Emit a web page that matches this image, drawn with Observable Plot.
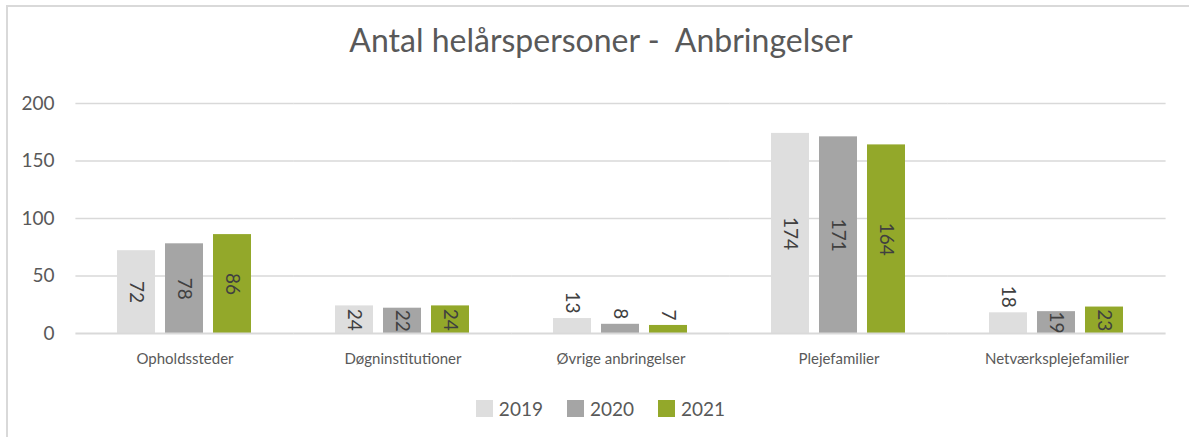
<!DOCTYPE html>
<html><head><meta charset="utf-8">
<script src="https://cdn.jsdelivr.net/npm/d3@7"></script>
<script src="https://cdn.jsdelivr.net/npm/@observablehq/plot@0.6"></script>
<style>
body{margin:0;background:#fff;}
#wrap{position:relative;width:1189px;height:437px;overflow:hidden;font-family:Lato, "Open Sans", sans-serif;}
#frame{position:absolute;left:6px;top:5px;width:1200px;height:450px;border-left:2px solid #d9d9d9;border-top:2px solid #d9d9d9;}
#title{position:absolute;left:0;width:1202px;top:24px;text-align:center;font-size:32px;line-height:32px;color:#595959;white-space:pre;}
#chart{position:absolute;left:0;top:0;}
#legend{position:absolute;top:400px;left:0;width:1201px;height:17px;display:flex;justify-content:center;align-items:center;font-size:19px;color:#595959;}
.item{display:flex;align-items:center;margin:0 12px;}
.sw{width:17px;height:17px;margin-right:6px;}
</style></head>
<body>
<div id="wrap">
<div id="frame"></div>
<div id="chart"></div>
<div id="title">Antal helårspersoner -  Anbringelser</div>
<div id="legend"></div>
</div>
<script>
const categories = ["Opholdssteder","Døgninstitutioner","Øvrige anbringelser","Plejefamilier","Netværksplejefamilier"];
const years = ["2019","2020","2021"];
const values2019 = [72,24,13,174,18];
const values2020 = [78,22,8,171,19];
const values2021 = [86,24,7,164,23];
const yTicks = [0,50,100,150,200];
const colors = ["#dedede","#a5a5a5","#93a82a"];

const series = [values2019, values2020, values2021];
const rows = [];
categories.forEach((c,i)=>years.forEach((y,j)=>rows.push({cat:c, year:y, value:series[j][i]})));
const fits = d => d.value >= 19;

const chart = Plot.plot({
  width:1189, height:437,
  marginTop:103, marginBottom:104, marginLeft:74, marginRight:22,
  fx:{domain:categories, paddingInner:0.334, paddingOuter:0.167, label:null},
  x:{domain:years, paddingInner:0.2, paddingOuter:0.1, axis:null},
  y:{domain:[0,200], label:null},
  color:{domain:years, range:colors},
  style:{fontFamily:"Lato, 'Open Sans', sans-serif", color:"#595959", background:"transparent", overflow:"visible"},
  marks:[
    Plot.ruleY(yTicks.filter(d=>d>0), {stroke:"#d9d9d9", strokeWidth:1.5, insetLeft:-36.6, insetRight:-36.6}),
    Plot.barY(rows, {fx:"cat", x:"year", y:"value", fill:"year"}),
    Plot.ruleY([0], {stroke:"#d9d9d9", strokeWidth:2, insetLeft:-36.6, insetRight:-36.6}),
    Plot.text(rows.filter(fits), {fx:"cat", x:"year", y:d=>d.value/2, text:d=>String(d.value), rotate:90, fill:"#404040", fontSize:19}),
    Plot.text(rows.filter(d=>!fits(d)), {fx:"cat", x:"year", y:"value", text:d=>String(d.value), rotate:90, textAnchor:"end", dy:-5, fill:"#404040", fontSize:19}),
    Plot.axisY({ticks:yTicks, tickSize:0, tickPadding:58, fontSize:19, fill:"#595959", label:null}),
    Plot.axisFx({anchor:"bottom", tickSize:0, tickPadding:20, fontSize:15, fill:"#595959", label:null})
  ]
});
document.getElementById("chart").appendChild(chart);

const legend = document.getElementById("legend");
years.forEach((y,i)=>{
  const it = document.createElement("div"); it.className="item";
  const sw = document.createElement("div"); sw.className="sw"; sw.style.background=colors[i];
  const t = document.createElement("span"); t.textContent=y;
  it.appendChild(sw); it.appendChild(t); legend.appendChild(it);
});
</script>
</body></html>
